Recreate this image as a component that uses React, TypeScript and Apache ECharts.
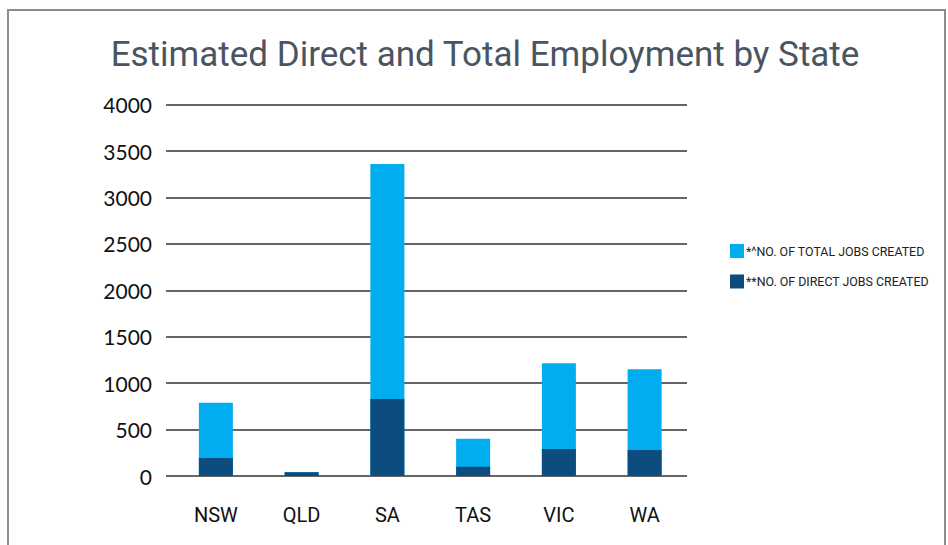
import React, { useEffect, useRef } from "react";
import * as echarts from "echarts";

const states = ["NSW", "QLD", "SA", "TAS", "VIC", "WA"];
const totalJobs = [790, 40, 3360, 400, 1215, 1150];
const directJobs = [195, 40, 830, 100, 290, 280];
const yTicks = { min: 0, max: 4000, interval: 500 };
const titleText = "Estimated Direct and Total Employment by State";
const totalName = "*^NO. OF TOTAL JOBS CREATED";
const directName = "**NO. OF DIRECT JOBS CREATED";

export default function App() {
  const ref = useRef<HTMLDivElement>(null);
  useEffect(() => {
    if (!ref.current) return;
    const chart = echarts.init(ref.current, undefined, { renderer: "svg" });
    chart.setOption({
      animation: false,
      backgroundColor: "#ffffff",
      title: {
        text: titleText,
        left: 480,
        textAlign: "center",
        top: 32,
        textStyle: {
          fontFamily: "Roboto",
          fontSize: 35,
          fontWeight: "normal",
          color: "#4a5562",
        },
      },
      graphic: [
        {
          type: "rect",
          shape: { x: 8, y: 10, width: 937, height: 600 },
          style: { fill: "none", stroke: "#8c8c8c", lineWidth: 2 },
          silent: true,
        },
      ],
      legend: {
        orient: "vertical",
        left: 725,
        top: 239,
        itemWidth: 14,
        itemHeight: 14,
        itemGap: 16.5,
        icon: "rect",
        data: [totalName, directName],
        textStyle: {
          fontFamily: "Roboto",
          fontSize: 12.4,
          color: "#222",
          padding: [0, 0, 0, -3],
        },
      },
      grid: [
        { left: 166, right: 261, top: 104.7, bottom: 69, containLabel: false },
        { left: 173, right: 260.5, top: 104.7, bottom: 69, containLabel: false },
      ],
      xAxis: [
        {
          gridIndex: 0,
          type: "value",
          show: false,
        },
        {
          gridIndex: 1,
          type: "category",
          data: states,
          axisLine: { show: false },
          axisTick: { show: false },
          axisLabel: {
            margin: 29,
            fontFamily: "Roboto",
            fontSize: 20,
            color: "#111",
          },
        },
      ],
      yAxis: [
        {
          gridIndex: 0,
          type: "value",
          min: yTicks.min,
          max: yTicks.max,
          interval: yTicks.interval,
          axisLine: { show: false },
          axisTick: { show: false },
          splitLine: { lineStyle: { color: "#333", width: 1.5 } },
          axisLabel: {
            margin: 14,
            fontFamily: "Lato",
            fontSize: 21,
            color: "#111",
            formatter: (v: number) => String(v),
          },
        },
        {
          gridIndex: 1,
          type: "value",
          min: yTicks.min,
          max: yTicks.max,
          interval: yTicks.interval,
          show: false,
          splitLine: { show: false },
        },
      ],
      series: [
        {
          name: totalName,
          type: "bar",
          xAxisIndex: 1,
          yAxisIndex: 1,
          data: totalJobs,
          barWidth: 34,
          barGap: "-100%",
          itemStyle: { color: "#00adef" },
        },
        {
          name: directName,
          type: "bar",
          xAxisIndex: 1,
          yAxisIndex: 1,
          data: directJobs,
          barWidth: 34,
          barGap: "-100%",
          itemStyle: { color: "#0d4c7e" },
        },
      ],
    });
    return () => chart.dispose();
  }, []);
  return (
    <div
      ref={ref}
      style={{ position: "absolute", left: 0, top: 0, width: 948, height: 545 }}
    />
  );
}
